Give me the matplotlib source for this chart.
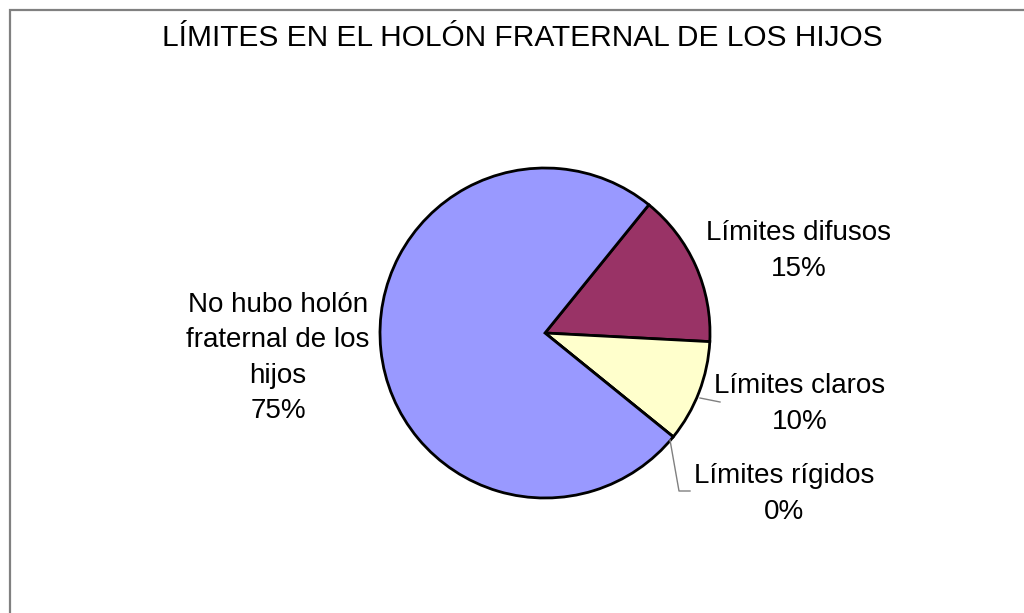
import numpy as np
import matplotlib
matplotlib.use("Agg")
import matplotlib.pyplot as plt
from matplotlib.patches import Rectangle

plt.rcParams['font.family'] = ['Liberation Sans', 'DejaVu Sans']

# Datos (orden en sentido horario desde ~51°)
categorias = ["Límites difusos", "Límites claros", "Límites rígidos",
              "No hubo holón\nfraternal de los\nhijos"]
valores = [15, 10, 0, 75]
colores = ["#993366", "#FFFFCC", "#FFFFFF", "#9999FF"]

W, H = 1024, 613
cx, cy, r = 545, 333, 165  # centro y radio del pastel en píxeles

fig = plt.figure(figsize=(W / 100, H / 100), dpi=100)

# marco del gráfico
fig.patches.append(Rectangle((9.5 / W, -0.1), 1.2, 1.1 - 10.5 / H,
                             transform=fig.transFigure, fill=False,
                             edgecolor="#808080", linewidth=1.6))

ax = fig.add_axes([(cx - r) / W, (H - cy - r) / H, 2 * r / W, 2 * r / H])
ax.pie(valores, colors=colores, startangle=51, counterclock=False,
       wedgeprops=dict(edgecolor="black", linewidth=2))
ax.set_xlim(-1, 1)
ax.set_ylim(-1, 1)
ax.axis("off")


def px(x, y):
    # convierte píxeles de la imagen a coordenadas del eje
    return (x - cx) / r, (cy - y) / r


# etiquetas
pos_etiquetas = [(799, 251), (800, 404), (784, 494), (278, 358)]
for cat, val, (x, y) in zip(categorias, valores, pos_etiquetas):
    tx, ty = px(x, y)
    ax.text(tx, ty, f"{cat}\n{val}%", ha="center", va="center",
            fontsize=20, linespacing=1.47, clip_on=False)

# líneas guía
for pts in ([(700, 398), (720, 402)],
            [(670, 440), (679, 491), (690, 491)]):
    xs, ys = zip(*[px(x, y) for x, y in pts])
    ax.plot(xs, ys, color="#808080", linewidth=1, clip_on=False)

fig.text(522 / W, 1 - 38 / H, "LÍMITES EN EL HOLÓN FRATERNAL DE LOS HIJOS",
         ha="center", va="center", fontsize=21.5)

fig.savefig("out.png", dpi=100)
